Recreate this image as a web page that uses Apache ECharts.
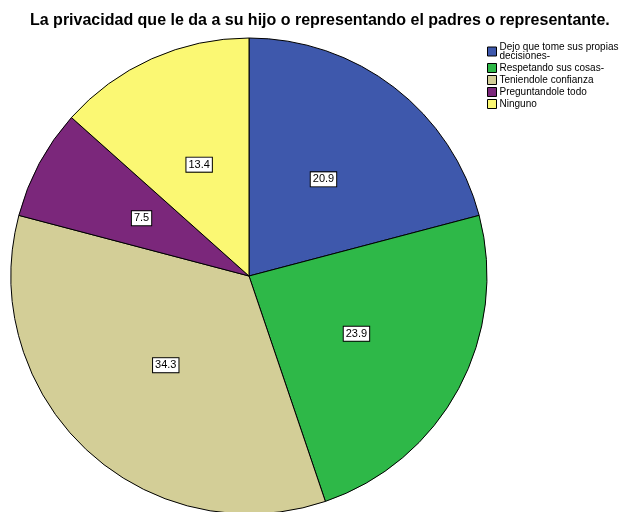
<!DOCTYPE html>
<html>
<head>
<meta charset="UTF-8">
<script src="https://cdn.jsdelivr.net/npm/echarts@6/dist/echarts.min.js"></script>
<style>
html, body { margin: 0; padding: 0; background: #fff; }
</style>
</head>
<body>
<div id="chart_div" style="width: 623px;height:512px;"></div>
<script type="text/javascript">
var categories = ["Dejo que tome sus propias decisiones-", "Respetando sus cosas-", "Teniendole confianza", "Preguntandole todo", "Ninguno"];
var values = [20.9, 23.9, 34.3, 7.5, 13.4];
var colors = ["#3e58ac", "#2eb848", "#d3ce97", "#7b277b", "#fbf873"];

var myChart = echarts.init(document.getElementById('chart_div'));

var datas = [];
categories.forEach((item, index) => {
	datas.push({name: item, value: values[index], itemStyle: {color: colors[index]}});
});

option = {
	animation: false,
	title: {
		text: "La privacidad que le da a su hijo o representando el padres o representante.",
		left: 30,
		top: 13,
		padding: 0,
		textStyle: {fontFamily: "Liberation Sans", fontSize: 16, fontWeight: "bold", color: "#000"}
	},
	legend: {
		orient: "vertical",
		left: 487,
		top: 42,
		padding: 0,
		itemWidth: 9,
		itemHeight: 9,
		itemGap: 2,
		icon: "rect",
		itemStyle: {borderColor: "#000", borderWidth: 1},
		textStyle: {fontFamily: "Liberation Sans", fontSize: 10, color: "#000", padding: [0, 0, 0, -2], lineHeight: 9},
		formatter: function(name) {
			return name == categories[0] ? "Dejo que tome sus propias\ndecisiones-" : name;
		}
	},
	series: [{
		type: "pie",
		center: [249, 276],
		radius: 238,
		startAngle: 90,
		clockwise: true,
		data: datas,
		itemStyle: {borderColor: "#000", borderWidth: 1},
		label: {
			position: "inner",
			formatter: "{c}",
			fontFamily: "Liberation Sans",
			fontSize: 11,
			color: "#000",
			backgroundColor: "#fff",
			borderColor: "#000",
			borderWidth: 1,
			padding: [2, 2, 1, 2]
		},
		labelLine: {show: false},
		emphasis: {disabled: true}
	}]
};
myChart.setOption(option, true);
</script>
</body>
</html>
